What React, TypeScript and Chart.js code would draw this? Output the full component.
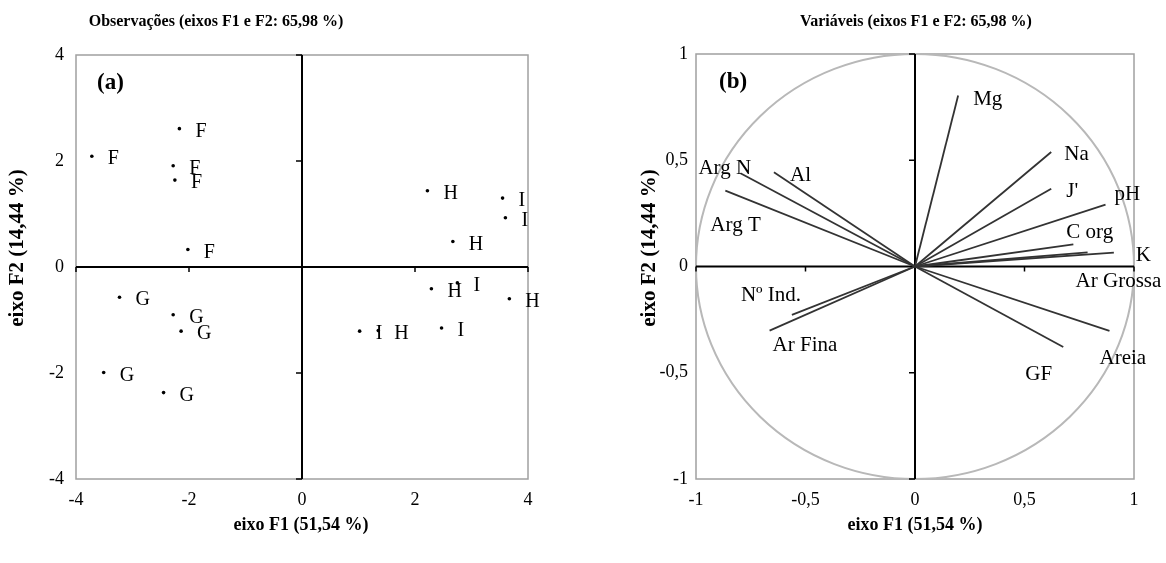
import React, { useEffect, useRef } from 'react';
import { Chart, registerables } from 'chart.js';

Chart.register(...registerables);

// ---------- Data ----------
const obsLabels = ['F', 'F', 'F', 'F', 'F', 'G', 'G', 'G', 'G', 'G', 'H', 'I', 'I', 'H', 'H', 'I', 'H', 'I', 'H', 'I'];
const obsX = [-2.17, -3.72, -2.28, -2.25, -2.02, -3.23, -2.28, -2.14, -3.51, -2.45, 2.22, 3.55, 3.6, 2.67, 2.29, 2.75, 3.67, 1.02, 1.35, 2.47];
const obsY = [2.61, 2.09, 1.91, 1.64, 0.33, -0.57, -0.9, -1.21, -1.99, -2.37, 1.44, 1.3, 0.93, 0.48, -0.41, -0.3, -0.6, -1.21, -1.2, -1.15];
const obsTicks = [-4, -2, 0, 2, 4];

const varLabels = ['Mg', 'Arg N', 'Al', 'Arg T', 'Na', "J'", 'pH', 'C org', 'K', 'Ar Grossa', 'Nº Ind.', 'Ar Fina', 'Areia', 'GF'];
const varX = [0.197, -0.797, -0.644, -0.866, 0.622, 0.622, 0.87, 0.723, 0.908, 0.788, -0.562, -0.664, 0.888, 0.677];
const varY = [0.805, 0.439, 0.443, 0.357, 0.539, 0.366, 0.291, 0.104, 0.065, 0.066, -0.228, -0.302, -0.303, -0.379];
const varTicks = [-1, -0.5, 0, 0.5, 1];

// ---------- Layout / style (not data) ----------
const FONT = '"Liberation Serif", "Times New Roman", serif';
const W = 583;
const H = 563;
// pixel offsets of each variable label from its vector tip: [dx to left edge, dy to middle]
const varLabelOffsets: [number, number][] = [
  [15, 4], [-42, -5], [16, 3], [-15, 35], [13, 3], [15, 3], [9, -10],
  [-7, -12], [22, 3], [-12, 29], [-51, -19], [3, 15], [-10, 28], [-38, 27],
];

type PanelCfg = {
  id: string;
  title: string;
  titleX: number;
  yTitleX: number;
  yTitleY: number;
  xTitleX: number;
  panel: string;
  panelX: number;
  panelY: number;
  circle: boolean;
  drawLabels: (chart: any) => void;
};

function framePlugin(p: PanelCfg) {
  return {
    id: 'frame_' + p.id,
    beforeDatasetsDraw(chart: any) {
      const { ctx, chartArea: a, scales } = chart;
      const xs = scales.x;
      const ys = scales.y;
      ctx.save();
      ctx.strokeStyle = '#a0a0a0';
      ctx.lineWidth = 1.5;
      ctx.strokeRect(a.left, a.top, a.right - a.left, a.bottom - a.top);
      if (p.circle) {
        const cx = xs.getPixelForValue(0);
        const cy = ys.getPixelForValue(0);
        const rx = xs.getPixelForValue(1) - cx;
        const ry = cy - ys.getPixelForValue(1);
        ctx.strokeStyle = '#b8b8b8';
        ctx.lineWidth = 2;
        ctx.beginPath();
        ctx.ellipse(cx, cy, rx, ry, 0, 0, Math.PI * 2);
        ctx.stroke();
      }
      const x0 = xs.getPixelForValue(0);
      const y0 = ys.getPixelForValue(0);
      ctx.strokeStyle = '#000';
      ctx.lineWidth = 2;
      ctx.beginPath();
      ctx.moveTo(a.left, y0);
      ctx.lineTo(a.right, y0);
      ctx.moveTo(x0, a.top);
      ctx.lineTo(x0, a.bottom);
      ctx.stroke();
      ctx.lineWidth = 1.5;
      ctx.beginPath();
      xs.ticks.forEach((t: any) => {
        if (t.value === 0) return;
        const px = xs.getPixelForValue(t.value);
        ctx.moveTo(px, y0);
        ctx.lineTo(px, y0 + 5);
      });
      ys.ticks.forEach((t: any) => {
        if (t.value === 0) return;
        const py = ys.getPixelForValue(t.value);
        ctx.moveTo(x0, py);
        ctx.lineTo(x0 - 6, py);
      });
      ctx.stroke();
      ctx.restore();
    },
    afterDatasetsDraw(chart: any) {
      p.drawLabels(chart);
    },
    afterDraw(chart: any) {
      const { ctx } = chart;
      ctx.save();
      ctx.fillStyle = '#000';
      ctx.textBaseline = 'middle';
      ctx.font = `bold 16px ${FONT}`;
      ctx.textAlign = 'center';
      ctx.fillText(p.title, p.titleX, 22);
      ctx.font = `bold 18px ${FONT}`;
      ctx.fillText('eixo F1 (51,54 %)', p.xTitleX, 525);
      ctx.save();
      ctx.translate(p.yTitleX, p.yTitleY);
      ctx.rotate(-Math.PI / 2);
      ctx.font = `bold 21px ${FONT}`;
      ctx.fillText('eixo F2 (14,44 %)', 0, 0);
      ctx.restore();
      ctx.font = `bold 23px ${FONT}`;
      ctx.textAlign = 'left';
      ctx.fillText(p.panel, p.panelX, p.panelY);
      ctx.restore();
    },
  };
}

function baseScales(min: number, max: number, step: number, yWidth: number, yPad: number, fmt: (v: number) => string) {
  const tickFont = { family: FONT, size: 18 };
  return {
    x: {
      type: 'linear',
      min,
      max,
      ticks: { stepSize: step, font: tickFont, color: '#000', padding: 10, callback: (v: any) => fmt(Number(v)) },
      grid: { display: false, drawTicks: false },
      border: { display: false },
      afterFit: (s: any) => { s.height = H - 479; },
    },
    y: {
      type: 'linear',
      min,
      max,
      ticks: { stepSize: step, font: tickFont, color: '#000', padding: yPad, callback: (v: any) => fmt(Number(v)) },
      grid: { display: false, drawTicks: false },
      border: { display: false },
      afterFit: (s: any) => { s.width = yWidth; },
    },
  };
}

function buildObs(): any {
  const plugin = framePlugin({
    id: 'obs',
    title: 'Observações (eixos F1 e F2: 65,98 %)',
    titleX: 216,
    yTitleX: 18,
    yTitleY: 248,
    xTitleX: 301,
    panel: '(a)',
    panelX: 97,
    panelY: 83,
    circle: false,
    drawLabels(chart: any) {
      const { ctx, scales } = chart;
      ctx.save();
      ctx.fillStyle = '#000';
      ctx.font = `20px ${FONT}`;
      ctx.textAlign = 'left';
      ctx.textBaseline = 'middle';
      obsLabels.forEach((lab, i) => {
        const px = scales.x.getPixelForValue(obsX[i]);
        const py = scales.y.getPixelForValue(obsY[i]);
        ctx.fillText(lab, px + 16, py + 3);
      });
      ctx.restore();
    },
  });
  return {
    type: 'scatter',
    data: {
      datasets: [
        {
          data: obsX.map((x, i) => ({ x, y: obsY[i] })),
          pointRadius: 1.8,
          pointBackgroundColor: '#000',
          pointBorderWidth: 0,
        },
      ],
    },
    options: {
      responsive: false,
      animation: false,
      devicePixelRatio: 1,
      layout: { padding: { top: 55, right: W - 528, bottom: 0, left: 0 } },
      plugins: { legend: { display: false }, tooltip: { enabled: false }, title: { display: false } },
      scales: baseScales(obsTicks[0], obsTicks[obsTicks.length - 1], obsTicks[1] - obsTicks[0], 76, 12, (v) => String(v)),
    },
    plugins: [plugin],
  };
}

function buildVar(): any {
  const plugin = framePlugin({
    id: 'var',
    title: 'Variáveis (eixos F1 e F2: 65,98 %)',
    titleX: 333,
    yTitleX: 67,
    yTitleY: 248,
    xTitleX: 332,
    panel: '(b)',
    panelX: 136,
    panelY: 82,
    circle: true,
    drawLabels(chart: any) {
      const { ctx, scales } = chart;
      ctx.save();
      ctx.fillStyle = '#000';
      ctx.font = `21px ${FONT}`;
      ctx.textAlign = 'left';
      ctx.textBaseline = 'middle';
      varLabels.forEach((lab, i) => {
        const px = scales.x.getPixelForValue(varX[i]);
        const py = scales.y.getPixelForValue(varY[i]);
        const [dx, dy] = varLabelOffsets[i];
        ctx.fillText(lab, px + dx, py + dy);
      });
      ctx.restore();
    },
  });
  return {
    type: 'scatter',
    data: {
      datasets: varLabels.map((lab, i) => ({
        label: lab,
        data: [{ x: 0, y: 0 }, { x: varX[i], y: varY[i] }],
        showLine: true,
        borderColor: '#333',
        borderWidth: 1.8,
        pointRadius: 0,
        fill: false,
      })),
    },
    options: {
      responsive: false,
      animation: false,
      devicePixelRatio: 1,
      layout: { padding: { top: 54, right: W - (1134 - 583), bottom: 0, left: 0 } },
      plugins: { legend: { display: false }, tooltip: { enabled: false }, title: { display: false } },
      scales: baseScales(varTicks[0], varTicks[varTicks.length - 1], varTicks[1] - varTicks[0], 696 - 583, 8, (v) => String(v).replace('.', ',')),
    },
    plugins: [plugin],
  };
}

function PcaChart({ kind }: { kind: 'obs' | 'var' }) {
  const ref = useRef<HTMLCanvasElement>(null);
  useEffect(() => {
    if (!ref.current) return;
    const cfg = kind === 'obs' ? buildObs() : buildVar();
    const chart = new Chart(ref.current, cfg);
    return () => chart.destroy();
  }, [kind]);
  return <canvas ref={ref} width={W} height={H} style={{ display: 'block', width: W, height: H }} />;
}

export default function App() {
  return (
    <div style={{ position: 'absolute', left: 0, top: 0, width: 1166, height: 563, background: '#fff' }}>
      <div style={{ position: 'absolute', left: 0, top: 0 }}>
        <PcaChart kind="obs" />
      </div>
      <div style={{ position: 'absolute', left: 583, top: 0 }}>
        <PcaChart kind="var" />
      </div>
    </div>
  );
}
